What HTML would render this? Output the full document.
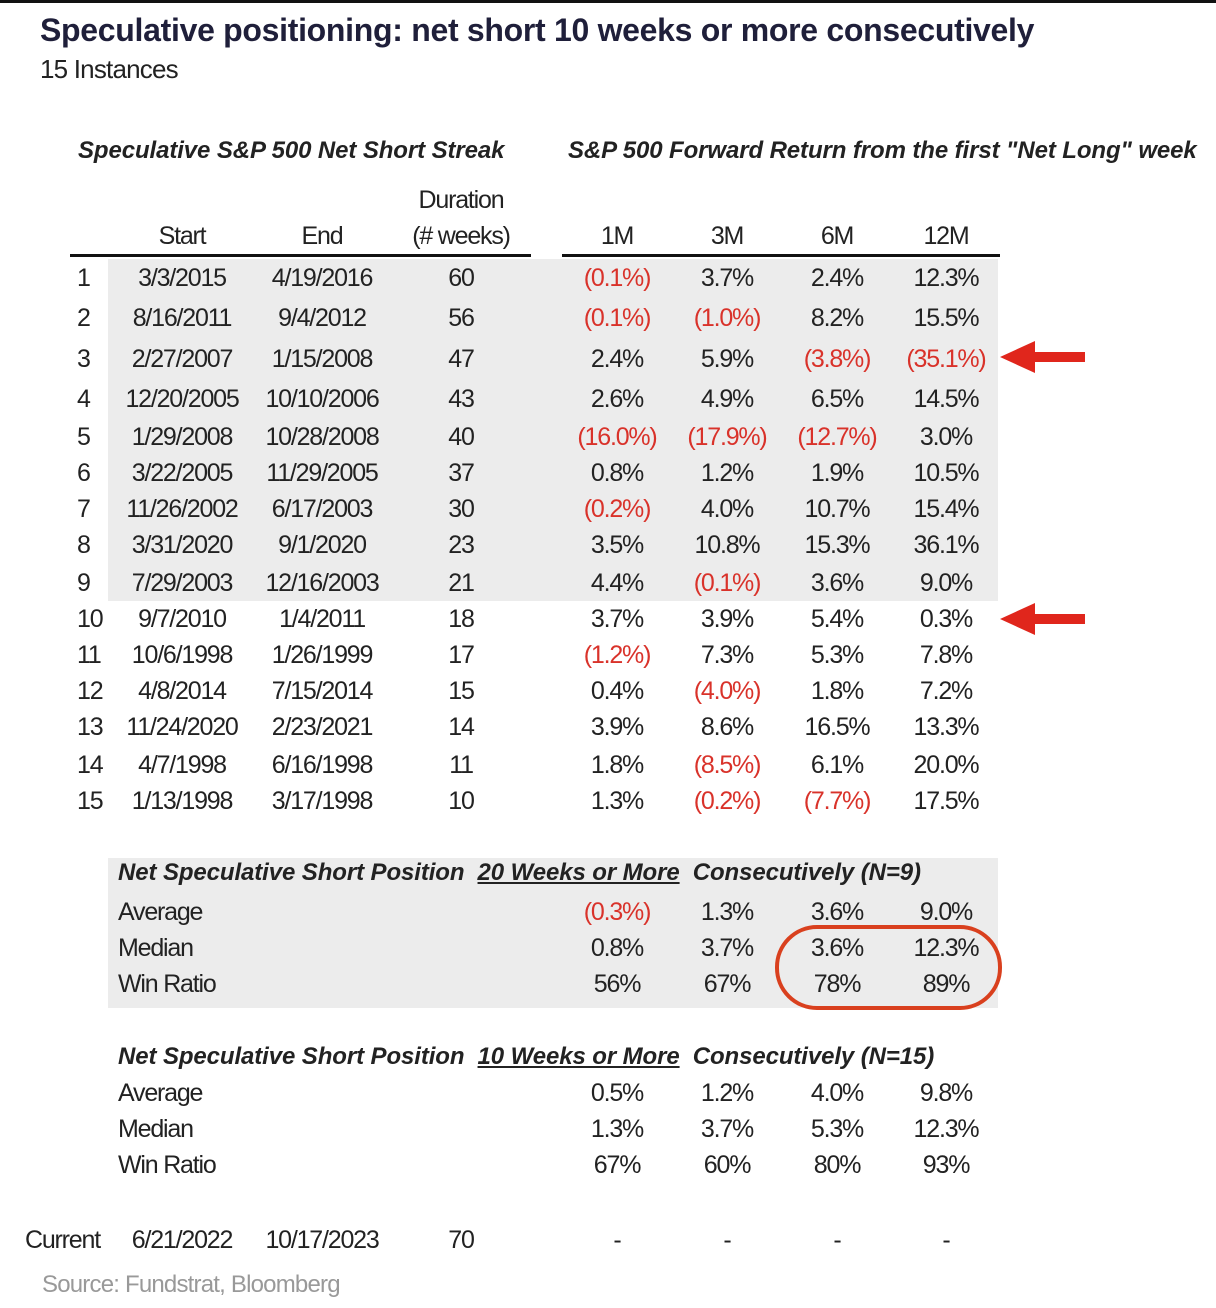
<!DOCTYPE html>
<html><head><meta charset="utf-8"><style>
body{margin:0;width:1216px;height:1308px;background:#fff;position:relative;overflow:hidden;font-family:"Liberation Sans",sans-serif;color:#222}
.a{position:absolute;white-space:nowrap}
.c{position:absolute;width:160px;text-align:center;font-size:25px;line-height:30px;letter-spacing:-1.2px;white-space:nowrap}
.r{color:#d9322a}
.h{font-weight:bold;font-style:italic;font-size:24px;letter-spacing:-0.1px}
.g{position:absolute;background:#ececec}
</style></head><body>
<div class="a" style="left:0;top:0;width:1216px;height:3px;background:#111"></div>
<div class="a" style="left:40px;top:12px;font-size:32px;font-weight:bold;color:#1f1f3a;letter-spacing:-0.3px">Speculative positioning: net short 10 weeks or more consecutively</div>
<div class="a" style="left:40px;top:54px;font-size:26px;letter-spacing:-0.8px">15 Instances</div>
<div class="a h" style="left:78px;top:137px">Speculative S&amp;P 500 Net Short Streak</div>
<div class="a h" style="left:568px;top:137px">S&amp;P 500 Forward Return from the first "Net Long" week</div>
<div class="g" style="left:108px;top:259px;width:890px;height:342px"></div>
<div class="g" style="left:108px;top:858px;width:890px;height:150px"></div>
<div class="a" style="left:70px;top:254px;width:461px;height:3px;background:#111"></div>
<div class="a" style="left:562px;top:254px;width:438px;height:3px;background:#111"></div>
<div id="t"></div>
<div class="a" style="left:775px;top:925px;width:219px;height:77px;border:4px solid #d9401e;border-radius:42px"></div>
<svg class="a" style="left:995px;top:335px" width="95" height="300"><g fill="#e0261c"><polygon points="5,22 40,6 40,17 90,17 90,27 40,27 40,38"/><polygon points="5,284 40,268 40,279 90,279 90,289 40,289 40,300"/></g></svg>
<div class="a" style="left:42px;top:1271px;font-size:24px;color:#999;letter-spacing:-0.8px">Source: Fundstrat, Bloomberg</div>
<script>
var X=[85,182,322,461,617,727,837,946];
var rows=[
[278,"1","3/3/2015","4/19/2016","60","(0.1%)","3.7%","2.4%","12.3%"],
[318,"2","8/16/2011","9/4/2012","56","(0.1%)","(1.0%)","8.2%","15.5%"],
[359,"3","2/27/2007","1/15/2008","47","2.4%","5.9%","(3.8%)","(35.1%)"],
[399,"4","12/20/2005","10/10/2006","43","2.6%","4.9%","6.5%","14.5%"],
[437,"5","1/29/2008","10/28/2008","40","(16.0%)","(17.9%)","(12.7%)","3.0%"],
[473,"6","3/22/2005","11/29/2005","37","0.8%","1.2%","1.9%","10.5%"],
[509,"7","11/26/2002","6/17/2003","30","(0.2%)","4.0%","10.7%","15.4%"],
[545,"8","3/31/2020","9/1/2020","23","3.5%","10.8%","15.3%","36.1%"],
[583,"9","7/29/2003","12/16/2003","21","4.4%","(0.1%)","3.6%","9.0%"],
[619,"10","9/7/2010","1/4/2011","18","3.7%","3.9%","5.4%","0.3%"],
[655,"11","10/6/1998","1/26/1999","17","(1.2%)","7.3%","5.3%","7.8%"],
[691,"12","4/8/2014","7/15/2014","15","0.4%","(4.0%)","1.8%","7.2%"],
[727,"13","11/24/2020","2/23/2021","14","3.9%","8.6%","16.5%","13.3%"],
[765,"14","4/7/1998","6/16/1998","11","1.8%","(8.5%)","6.1%","20.0%"],
[801,"15","1/13/1998","3/17/1998","10","1.3%","(0.2%)","(7.7%)","17.5%"],
[236,"","Start","End","(# weeks)","1M","3M","6M","12M"],
[200,"","","","Duration","","","",""],
[1240,"","6/21/2022","10/17/2023","70","-","-","-","-"],
[912,"","","","","(0.3%)","1.3%","3.6%","9.0%"],
[948,"","","","","0.8%","3.7%","3.6%","12.3%"],
[984,"","","","","56%","67%","78%","89%"],
[1093,"","","","","0.5%","1.2%","4.0%","9.8%"],
[1129,"","","","","1.3%","3.7%","5.3%","12.3%"],
[1165,"","","","","67%","60%","80%","93%"]];
var h="";
rows.forEach(function(r){for(var i=1;i<9;i++){var s=r[i];if(!s)continue;var x=X[i-1];
var cls=s[0]=="("&&i>4?"c r":"c";
var l=i==1?(x-8):(x-80);var st=i==1?"text-align:left;":"";
h+='<div class="'+cls+'" style="'+st+'left:'+l+'px;top:'+(r[0]-15)+'px">'+s+'</div>';}});
[["Average",912],["Median",948],["Win Ratio",984],["Average",1093],["Median",1129],["Win Ratio",1165]].forEach(function(p){
h+='<div class="c" style="text-align:left;left:118px;top:'+(p[1]-15)+'px">'+p[0]+'</div>';});
h+='<div class="c" style="text-align:left;left:25px;top:1225px">Current</div>';
h+='<div class="a h" style="left:118px;top:859px">Net Speculative Short Position &nbsp;<u>20 Weeks or More</u>&nbsp; Consecutively (N=9)</div>';
h+='<div class="a h" style="left:118px;top:1043px">Net Speculative Short Position &nbsp;<u>10 Weeks or More</u>&nbsp; Consecutively (N=15)</div>';
document.getElementById("t").innerHTML=h;
</script>
</body></html>
